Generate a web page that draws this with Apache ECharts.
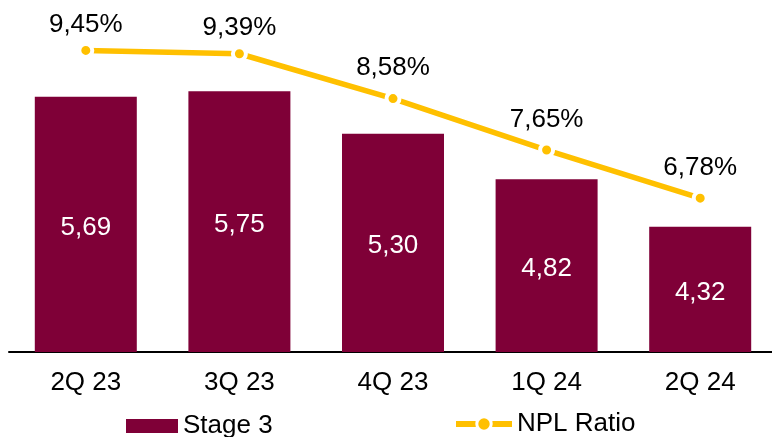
<!DOCTYPE html>
<html>
<head>
<meta charset="utf-8">
<script src="https://cdn.jsdelivr.net/npm/echarts@6/dist/echarts.min.js"></script>
<style>
  html, body { margin: 0; padding: 0; background: #fff; overflow: hidden; }
  #chart { width: 777px; height: 437px; }
</style>
</head>
<body>
<div id="chart"></div>
<script>
// Quarterly Stage 3 balances (bars) and NPL ratio in percent (line)
const quarters = ['2Q 23', '3Q 23', '4Q 23', '1Q 24', '2Q 24'];
const stage3 = [5.69, 5.75, 5.30, 4.82, 4.32];
const nplRatio = [9.45, 9.39, 8.58, 7.65, 6.78];

const BAR_COLOR = '#7F0037';
const LINE_COLOR = '#FFC000';
const FONT = 'Liberation Sans, Arial, sans-serif';

const comma = v => v.toFixed(2).replace('.', ',');

// The two highest ratio labels sit a little closer to their points so they stay inside the top margin
const lineData = nplRatio.map(v => ({
  value: v,
  label: { distance: v > 9 ? 4 : 9 }
}));

const chart = echarts.init(document.getElementById('chart'), null, { renderer: 'canvas' });
chart.setOption({
  animation: false,
  textStyle: { fontFamily: FONT },
  grid: { left: 9, right: 0, top: 20, bottom: 85 },
  legend: [
    {
      data: [{ name: 'Stage 3', icon: 'rect' }],
      left: 121, top: 408,
      itemWidth: 52, itemHeight: 14, itemGap: 0,
      textStyle: { fontSize: 26, color: '#000', fontFamily: FONT }
    },
    {
      data: ['NPL Ratio'],
      left: 448, top: 406,
      itemWidth: 56, itemHeight: 18, itemGap: 0,
      lineStyle: { width: 6, color: LINE_COLOR },
      itemStyle: { color: LINE_COLOR, borderColor: '#fff', borderWidth: 3 },
      textStyle: { fontSize: 26, color: '#000', fontFamily: FONT }
    }
  ],
  xAxis: {
    type: 'category',
    data: quarters,
    axisLine: { lineStyle: { color: '#000', width: 2 } },
    axisTick: { show: false },
    axisLabel: { fontSize: 26, color: '#000', margin: 18, fontFamily: FONT }
  },
  yAxis: [
    { type: 'value', min: 3, max: 6.5, show: false, splitLine: { show: false } },
    { type: 'value', min: 4, max: 10, show: false, splitLine: { show: false } }
  ],
  series: [
    {
      name: 'Stage 3',
      type: 'bar',
      yAxisIndex: 0,
      data: stage3,
      barWidth: 102,
      itemStyle: { color: BAR_COLOR },
      label: {
        show: true,
        position: 'inside',
        offset: [0, 3],
        color: '#fff',
        fontSize: 26,
        fontFamily: FONT,
        formatter: p => comma(p.value)
      }
    },
    {
      name: 'NPL Ratio',
      type: 'line',
      yAxisIndex: 1,
      data: lineData,
      symbol: 'circle',
      symbolSize: 13,
      lineStyle: { color: LINE_COLOR, width: 5.5 },
      itemStyle: { color: LINE_COLOR, borderColor: '#fff', borderWidth: 4 },
      label: {
        show: true,
        position: 'top',
        color: '#000',
        fontSize: 26,
        fontFamily: FONT,
        formatter: p => comma(p.value) + '%'
      }
    }
  ]
});
</script>
</body>
</html>
